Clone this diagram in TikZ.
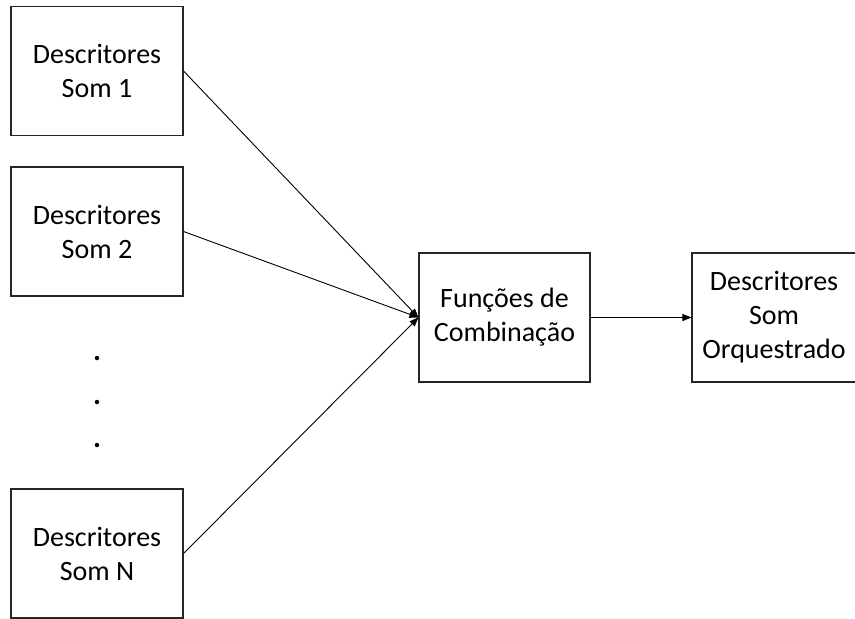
\documentclass[tikz,border=0pt]{standalone}
\usepackage{fontspec}
\setmainfont{Carlito}
\usetikzlibrary{arrows.meta,positioning}
\tikzset{
 box/.style={draw=black!85,line width=1.1pt,align=center,font=\fontsize{28}{34}\selectfont,minimum width=172pt,minimum height=129pt,inner sep=0pt},
 arr/.style={-{Triangle[length=9pt,width=7pt]},line width=0.9pt,draw=black},
 dot/.style={circle,fill=black,inner sep=0pt,minimum size=4.5pt}
}
\begin{document}
\begin{tikzpicture}[x=1pt,y=-1pt]
\useasboundingbox (0,0) rectangle (855,619);
\node[box] (som1) at (97,71) {Descritores\\Som 1};
\node[box] (som2) at (97,231.5) {Descritores\\Som 2};
\node[box] (somN) at (97,553.5) {Descritores\\Som N};
\foreach \i/\y in {1/358,2/402,3/445} \node[dot] (dot\i) at (97,\y) {};
\node[box,minimum width=171pt] (comb) at (504.5,317.5) {Funções de\\Combinação};
\node[box,minimum width=164pt] (orq) at (774,317.5) {Descritores\\Som\\Orquestrado};
\foreach \src in {som1,som2,somN} \draw[arr] (\src.east) -- (comb.west);
\draw[arr] (comb.east) -- (orq.west);
\end{tikzpicture}
\end{document}
